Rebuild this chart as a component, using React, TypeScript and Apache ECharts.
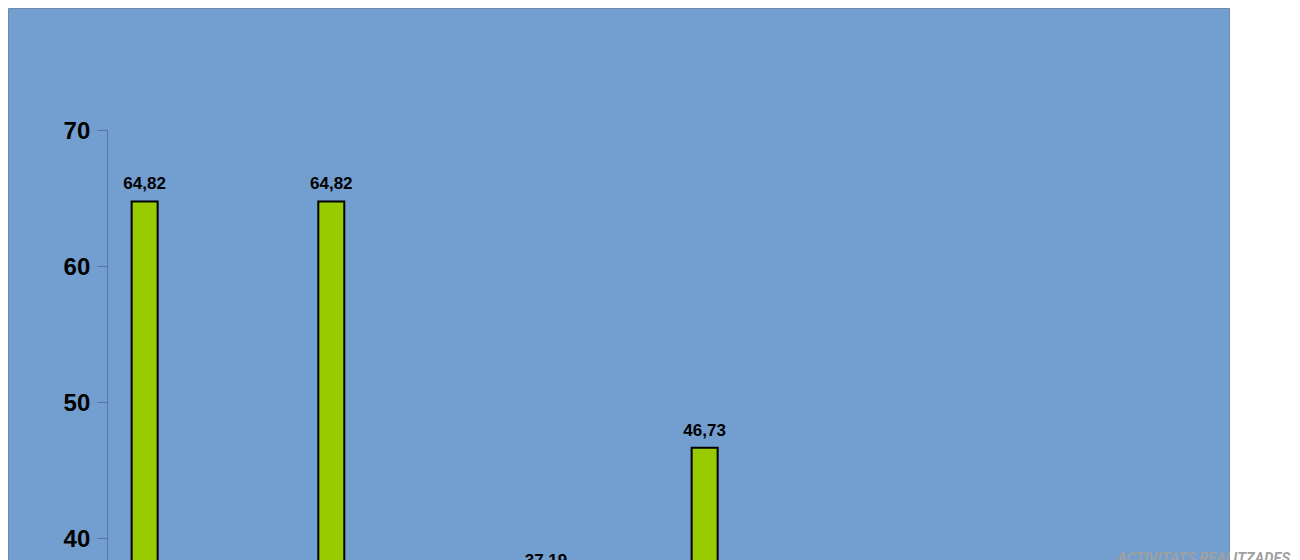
import React, { useEffect, useRef } from "react";
import * as echarts from "echarts";

const categories = ["2015", "2016", "2017", "2018", "2019", "2020"];
const seriesNames = ["Xerrades", "Tallers", "Cursos", "Jornades", "Altres"];
const serieXerrades = [64.82, 64.82, 21.4, 46.73, 18.2, 25.6];
const serieTallers = [12.35, 14.1, 37.19, 20.5, 30.4, 16.8];
const serieCursos = [8.6, 9.45, 15.7, 11.2, 22.1, 28.3];
const serieJornades = [9.15, 7.3, 16.84, 13.9, 19.6, 17.5];
const serieAltres = [5.08, 4.33, 8.87, 7.67, 9.7, 11.8];
const seriesColors = ["#99cc00", "#ff9900", "#cc3333", "#ffcc00", "#9966cc"];
const yTicks = { min: 0, max: 70, interval: 10 };
const legendTitle = "ACTIVITATS REALITZADES";

const CHART_W = 1284;
const CHART_H = 1180;

export default function App() {
  const ref = useRef<HTMLDivElement>(null);
  useEffect(() => {
    if (!ref.current) return;
    const chart = echarts.init(ref.current, undefined, { renderer: "svg" });
    const allData = [serieXerrades, serieTallers, serieCursos, serieJornades, serieAltres];
    const fmt = (p: any) => Number(p.value).toFixed(2).replace(".", ",");
    chart.setOption({
      animation: false,
      graphic: [
        {
          type: "rect",
          z: -10,
          shape: { x: 0.5, y: 0.5, width: 1221, height: CHART_H - 30 },
          style: { fill: "#729fcf", stroke: "#6e8bab", lineWidth: 1 },
        },
        {
          type: "text",
          left: 1109,
          top: 542,
          z: 10,
          style: {
            text: legendTitle,
            fill: "#a0a0a0",
            font: "italic bold 14.6px Roboto",
          },
        },
      ],
      legend: {
        orient: "vertical",
        left: 1109,
        top: 570,
        itemWidth: 14,
        itemHeight: 14,
        textStyle: { color: "#a0a0a0", fontFamily: "Roboto", fontSize: 13 },
        data: seriesNames,
      },
      grid: { left: 99.3, right: 64.7, top: 122, bottom: 105.3 },
      xAxis: {
        type: "category",
        data: categories,
        axisLine: { lineStyle: { color: "#55779f" } },
        axisTick: { show: false },
        axisLabel: {
          color: "#000",
          fontWeight: "bold",
          fontSize: 16,
          fontFamily: "Liberation Sans",
        },
      },
      yAxis: {
        type: "value",
        min: yTicks.min,
        max: yTicks.max,
        interval: yTicks.interval,
        splitLine: { show: false },
        axisLine: { show: true, lineStyle: { color: "#55779f" } },
        axisTick: { show: true, length: 10, lineStyle: { color: "#55779f" } },
        axisLabel: {
          color: "#000",
          fontWeight: "bold",
          fontSize: 24,
          fontFamily: "Liberation Sans",
          margin: 17,
        },
      },
      series: seriesNames.map((name, i) => ({
        name,
        type: "bar",
        data: allData[i],
        barWidth: 28,
        barGap: "0%",
        itemStyle: { color: seriesColors[i], borderColor: "#000", borderWidth: 2 },
        label: {
          show: true,
          position: "top",
          distance: 8,
          formatter: fmt,
          color: "#000",
          fontWeight: "bold",
          fontSize: 17,
          fontFamily: "Liberation Sans",
        },
      })),
    });
    return () => chart.dispose();
  }, []);
  return <div ref={ref} style={{ width: CHART_W, height: CHART_H }} />;
}
